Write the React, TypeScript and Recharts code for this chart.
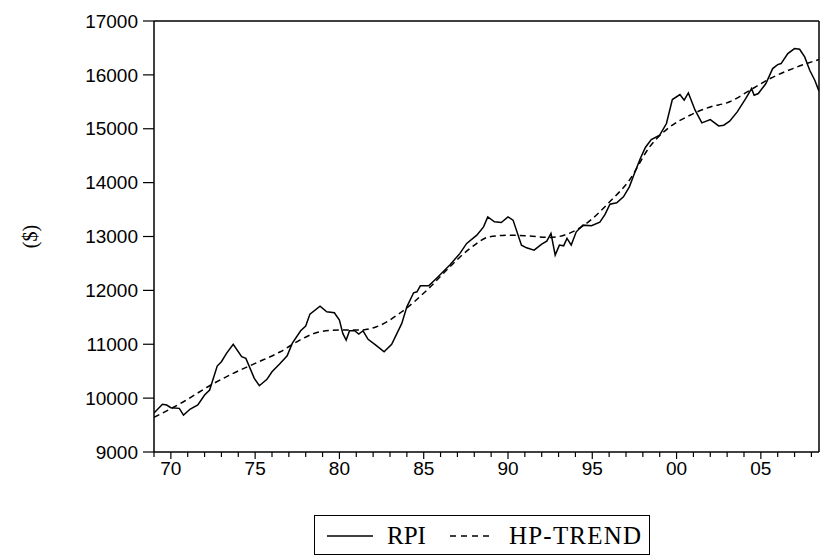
import React from 'react';
import { LineChart, Line, XAxis, YAxis, ReferenceLine, Legend } from 'recharts';

// RPI (year fraction -> value)
const rpiYears = [
  1969.0, 1969.5, 1969.75, 1970.0, 1970.5, 1970.75, 1971.15, 1971.6, 1972.0, 1972.3,
  1972.75, 1973.0, 1973.3, 1973.7, 1974.2, 1974.45, 1974.95, 1975.25, 1975.7, 1976.0,
  1976.45, 1976.9, 1977.2, 1977.7, 1978.0, 1978.25, 1978.85, 1979.25, 1979.7, 1980.0,
  1980.2, 1980.4, 1980.6, 1980.9, 1981.15, 1981.4, 1981.7, 1982.1, 1982.4, 1982.65,
  1983.1, 1983.7, 1984.0, 1984.4, 1984.6, 1984.8, 1985.3, 1985.75, 1986.55, 1987.15,
  1987.55, 1988.15, 1988.55, 1988.8, 1989.2, 1989.6, 1990.0, 1990.3, 1990.8, 1991.1,
  1991.55, 1992.0, 1992.3, 1992.55, 1992.8, 1993.05, 1993.3, 1993.5, 1993.75, 1994.05,
  1994.45, 1994.95, 1995.45, 1995.75, 1996.05, 1996.45, 1996.85, 1997.2, 1997.5, 1997.85,
  1998.15, 1998.5, 1999.0, 1999.4, 1999.75, 2000.2, 2000.45, 2000.7, 2001.1, 2001.5,
  2002.0, 2002.5, 2002.8, 2003.15, 2003.6, 2004.1, 2004.45, 2004.6, 2004.85, 2005.3,
  2005.7, 2006.0, 2006.2, 2006.6, 2007.0, 2007.3, 2007.6, 2007.9, 2008.2, 2008.45,
];
const rpiValues = [
  9723, 9885, 9872, 9822, 9810, 9686, 9798, 9872, 10057, 10150,
  10595, 10675, 10830, 10998, 10768, 10738, 10367, 10230, 10349, 10490,
  10632, 10786, 11016, 11250, 11337, 11560, 11708, 11603, 11584, 11449,
  11202, 11078, 11250, 11250, 11189, 11250, 11091, 10998, 10924, 10861,
  10998, 11387, 11695, 11955, 11974, 12085, 12085, 12222, 12469, 12686,
  12871, 13025, 13179, 13365, 13272, 13260, 13365, 13304, 12840, 12790,
  12747, 12858, 12914, 13057, 12654, 12840, 12827, 12964, 12840, 13087,
  13211, 13200, 13265, 13405, 13600, 13625, 13736, 13921, 14170, 14448,
  14652, 14800, 14880, 15097, 15543, 15634, 15530, 15665, 15344, 15109,
  15170, 15053, 15066, 15140, 15313, 15561, 15747, 15622, 15653, 15839,
  16117, 16191, 16210, 16395, 16488, 16476, 16333, 16086, 15901, 15697,
];

// HP trend
const trendYears = [
  1969.0, 1970.75, 1972.3, 1973.7, 1975.0, 1976.5, 1977.65, 1978.85, 1980.0, 1981.2,
  1982.2, 1983.7, 1985.3, 1986.55, 1987.75, 1988.9, 1990.1, 1991.3, 1992.5, 1993.7,
  1994.65, 1996.05, 1997.2, 1998.4, 1999.6, 2000.8, 2001.95, 2003.15, 2004.35, 2005.55,
  2006.9, 2008.45,
];
const trendValues = [
  9644, 9933, 10230, 10460, 10645, 10861, 11078, 11232, 11263, 11263,
  11324, 11603, 12037, 12437, 12779, 12994, 13025, 13007, 12982, 13068,
  13242, 13650, 14045, 14663, 15034, 15251, 15400, 15500, 15715, 15932,
  16117, 16285,
];

const yTicks = [9000, 10000, 11000, 12000, 13000, 14000, 15000, 16000, 17000];
const xTicks = [
  1969, 1970, 1971, 1972, 1973, 1974, 1975, 1976, 1977, 1978, 1979, 1980, 1981, 1982,
  1983, 1984, 1985, 1986, 1987, 1988, 1989, 1990, 1991, 1992, 1993, 1994, 1995, 1996,
  1997, 1998, 1999, 2000, 2001, 2002, 2003, 2004, 2005, 2006, 2007, 2008,
];
const xLabels: Record<number, string> = {
  1970: '70', 1975: '75', 1980: '80', 1985: '85', 1990: '90', 1995: '95', 2000: '00', 2005: '05',
};

const rpiData = rpiYears.map((year, i) => ({ year, value: rpiValues[i] }));
const trendData = trendYears.map((year, i) => ({ year, value: trendValues[i] }));

const sansFont = '"Liberation Sans", Arial, sans-serif';
const serifFont = '"Liberation Serif", "Times New Roman", serif';

const YearTick = (props: any) => {
  const { x, y, payload } = props;
  const label = xLabels[payload.value];
  return (
    <g>
      <line x1={x} x2={x} y1={y} y2={y + (label ? 7 : 5)} stroke="#000" strokeWidth={1.2} />
      {label && (
        <text x={x} y={y + 10} dy="0.71em" textAnchor="middle" fontFamily={sansFont} fontSize={19} fill="#000">
          {label}
        </text>
      )}
    </g>
  );
};

const LegendBox = () => (
  <div style={{ position: 'relative', width: 336, height: 40, border: '1px solid #000', boxSizing: 'border-box', background: '#fff' }}>
    <svg width={336} height={40} style={{ position: 'absolute', left: -1, top: -1 }}>
      <line x1={13} x2={59} y1={21} y2={21} stroke="#000" strokeWidth={1.5} />
      <text x={73} y={29} fontFamily={serifFont} fontSize={25} fill="#000">RPI</text>
      <line x1={136} x2={176} y1={21} y2={21} stroke="#000" strokeWidth={1.5} strokeDasharray="6 5" />
      <text x={195} y={29} fontFamily={serifFont} fontSize={25} letterSpacing={1.2} fill="#000">HP-TREND</text>
    </svg>
  </div>
);

export default function App() {
  return (
    <div style={{ position: 'absolute', left: 0, top: 0, width: 825, height: 560, background: '#fff' }}>
      <LineChart width={825} height={560} margin={{ top: 21, right: 6, left: 0, bottom: 5 }}>
        <XAxis
          dataKey="year"
          type="number"
          domain={[1969, 2008.45]}
          allowDataOverflow
          ticks={xTicks}
          interval={0}
          tick={<YearTick />}
          tickLine={false}
          tickSize={0}
          tickMargin={0}
          height={63}
          axisLine={{ stroke: '#000', strokeWidth: 1.5 }}
        />
        <YAxis
          type="number"
          domain={[9000, 17000]}
          ticks={yTicks}
          interval={0}
          width={154}
          tickSize={11}
          tickMargin={5}
          tickLine={{ stroke: '#000', strokeWidth: 1.2 }}
          axisLine={{ stroke: '#000', strokeWidth: 1.5 }}
          tick={{ fill: '#000', fontSize: 19, fontFamily: sansFont }}
          label={{
            content: (p: any) => {
              const vb = p.viewBox || { x: 0, y: 21, height: 431 };
              const cx = 30;
              const cy = vb.y + vb.height / 2;
              return (
                <text x={cx} y={cy} transform={`rotate(-90 ${cx} ${cy})`} textAnchor="middle" dominantBaseline="central" fontFamily={serifFont} fontSize={20} fill="#000">
                  ($)
                </text>
              );
            },
          }}
        />
        <ReferenceLine y={17000} stroke="#000" strokeWidth={1.5} />
        <ReferenceLine x={2008.45} stroke="#000" strokeWidth={1.5} />
        <Line
          data={trendData}
          dataKey="value"
          type="monotone"
          stroke="#000"
          strokeWidth={1.5}
          strokeDasharray="6 4"
          dot={false}
          isAnimationActive={false}
          name="HP-TREND"
        />
        <Line
          data={rpiData}
          dataKey="value"
          type="linear"
          stroke="#000"
          strokeWidth={1.5}
          dot={false}
          isAnimationActive={false}
          name="RPI"
        />
        <Legend
          verticalAlign="bottom"
          height={40}
          content={() => <LegendBox />}
          wrapperStyle={{ left: 314, width: 336, bottom: 5 }}
        />
      </LineChart>
    </div>
  );
}
